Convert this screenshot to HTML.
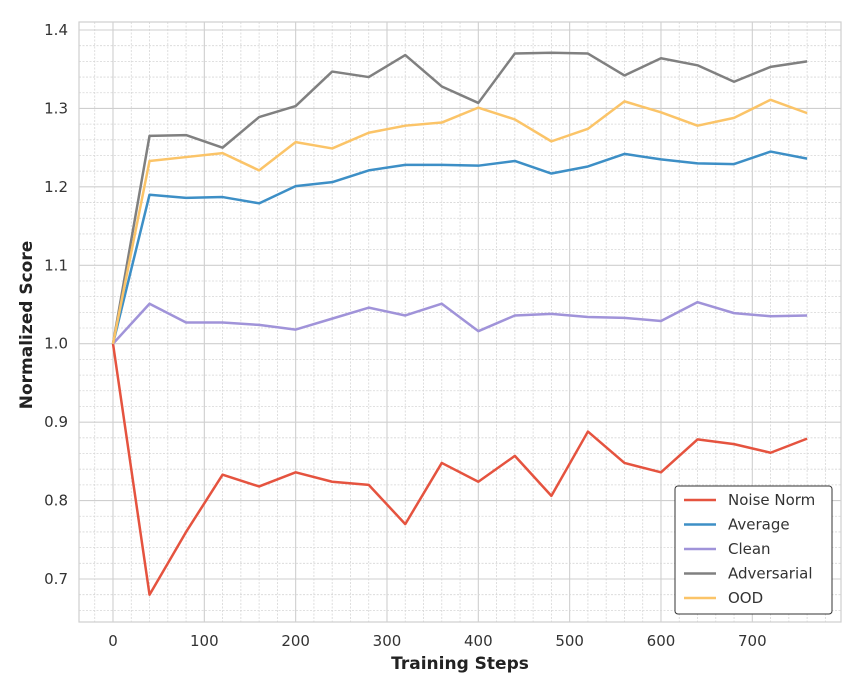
<!DOCTYPE html>
<html><head><meta charset="utf-8"><style>
body{margin:0;background:#fff;font-family:"DejaVu Sans","Liberation Sans",sans-serif}
</style></head><body>
<svg id="c" width="859" height="694" xmlns="http://www.w3.org/2000/svg" font-family="DejaVu Sans, Liberation Sans, sans-serif"></svg>
<script>
const steps=[0,40,80,120,160,200,240,280,320,360,400,440,480,520,560,600,640,680,720,760];
const noiseNorm=[1.0,0.68,0.76,0.833,0.818,0.836,0.824,0.820,0.770,0.848,0.824,0.857,0.806,0.888,0.848,0.836,0.878,0.872,0.861,0.879];
const average=[1.0,1.190,1.186,1.187,1.179,1.201,1.206,1.221,1.228,1.228,1.227,1.233,1.217,1.226,1.242,1.235,1.230,1.229,1.245,1.236];
const clean=[1.0,1.051,1.027,1.027,1.024,1.018,1.032,1.046,1.036,1.051,1.016,1.036,1.038,1.034,1.033,1.029,1.053,1.039,1.035,1.036];
const adversarial=[1.0,1.265,1.266,1.250,1.289,1.303,1.347,1.340,1.368,1.328,1.307,1.370,1.371,1.370,1.342,1.364,1.355,1.334,1.353,1.360];
const ood=[1.0,1.233,1.238,1.243,1.221,1.257,1.249,1.269,1.278,1.282,1.301,1.286,1.258,1.274,1.309,1.295,1.278,1.288,1.311,1.294];
const xTicks=[0,100,200,300,400,500,600,700];
const yTicks=[0.7,0.8,0.9,1.0,1.1,1.2,1.3,1.4];
const seriesNames=["Noise Norm","Average","Clean","Adversarial","OOD"];
const seriesData=[noiseNorm,average,clean,adversarial,ood];
const colors=["#e5533f","#3d8fc6","#a093d9","#808080","#fbc468"];
const svg=document.getElementById('c');const NS="http://www.w3.org/2000/svg";
const L=79,R=841,T=22,B=622;
const xs=v=>113+v*0.9133, ys=v=>30+(1.4-v)*784.3;
function mk(t,a,p){const e=document.createElementNS(NS,t);for(const k in a)e.setAttribute(k,a[k]);(p||svg).appendChild(e);return e;}
const g=mk('g',{});

for(let v=-20;v<=800;v+=20){const x=xs(v);if(x<L||x>R)continue;const maj=v%100===0;mk('line',{x1:x,x2:x,y1:T,y2:B,stroke:maj?'#cfcfcf':'#d6d6d6','stroke-width':maj?1.1:0.8,'stroke-dasharray':maj?'':'2,1.5'},g);}
for(let i=32;i<=72;i++){const v=i/50;const y=ys(v);if(y<T||y>B)continue;const maj=i%5===0;mk('line',{x1:L,x2:R,y1:y,y2:y,stroke:maj?'#cfcfcf':'#d6d6d6','stroke-width':maj?1.1:0.8,'stroke-dasharray':maj?'':'2,1.5'},g);}
const fr=mk('rect',{x:L,y:T,width:R-L,height:B-T,fill:'none',stroke:'#cfcfcf','stroke-width':1.2});

xTicks.forEach(v=>{const t=mk('text',{x:xs(v),y:646,'text-anchor':'middle','font-size':15,fill:'#333'});t.textContent=v;});
yTicks.forEach(v=>{const t=mk('text',{x:68,y:ys(v)+5,'text-anchor':'end','font-size':15,fill:'#333'});t.textContent=v.toFixed(1);});
const xt=mk('text',{x:460,y:669,'text-anchor':'middle','font-size':17,'font-weight':'bold',fill:'#222'});xt.textContent='Training Steps';

const yt=mk('text',{x:32,y:325,'text-anchor':'middle','font-size':17,'font-weight':'bold',fill:'#222',transform:'rotate(-90 32 325)'});yt.textContent='Normalized Score';

seriesData.forEach((d,i)=>{const p=mk('polyline',{points:d.map((v,j)=>xs(steps[j])+','+ys(v)).join(' '),fill:'none',stroke:colors[i],'stroke-width':2.5,'stroke-linejoin':'round'});
});
const lg=mk('g',{});
mk('rect',{x:675,y:486,width:157,height:128,rx:3,fill:'#fff',stroke:'#333','stroke-width':1},lg);
seriesNames.forEach((n,i)=>{const y=500+i*24.5;mk('line',{x1:684,x2:716,y1:y,y2:y,stroke:colors[i],'stroke-width':2.5},lg);
const t=mk('text',{x:728,y:y+5,'font-size':15,fill:'#333'},lg);t.textContent=n;});
</script></body></html>
